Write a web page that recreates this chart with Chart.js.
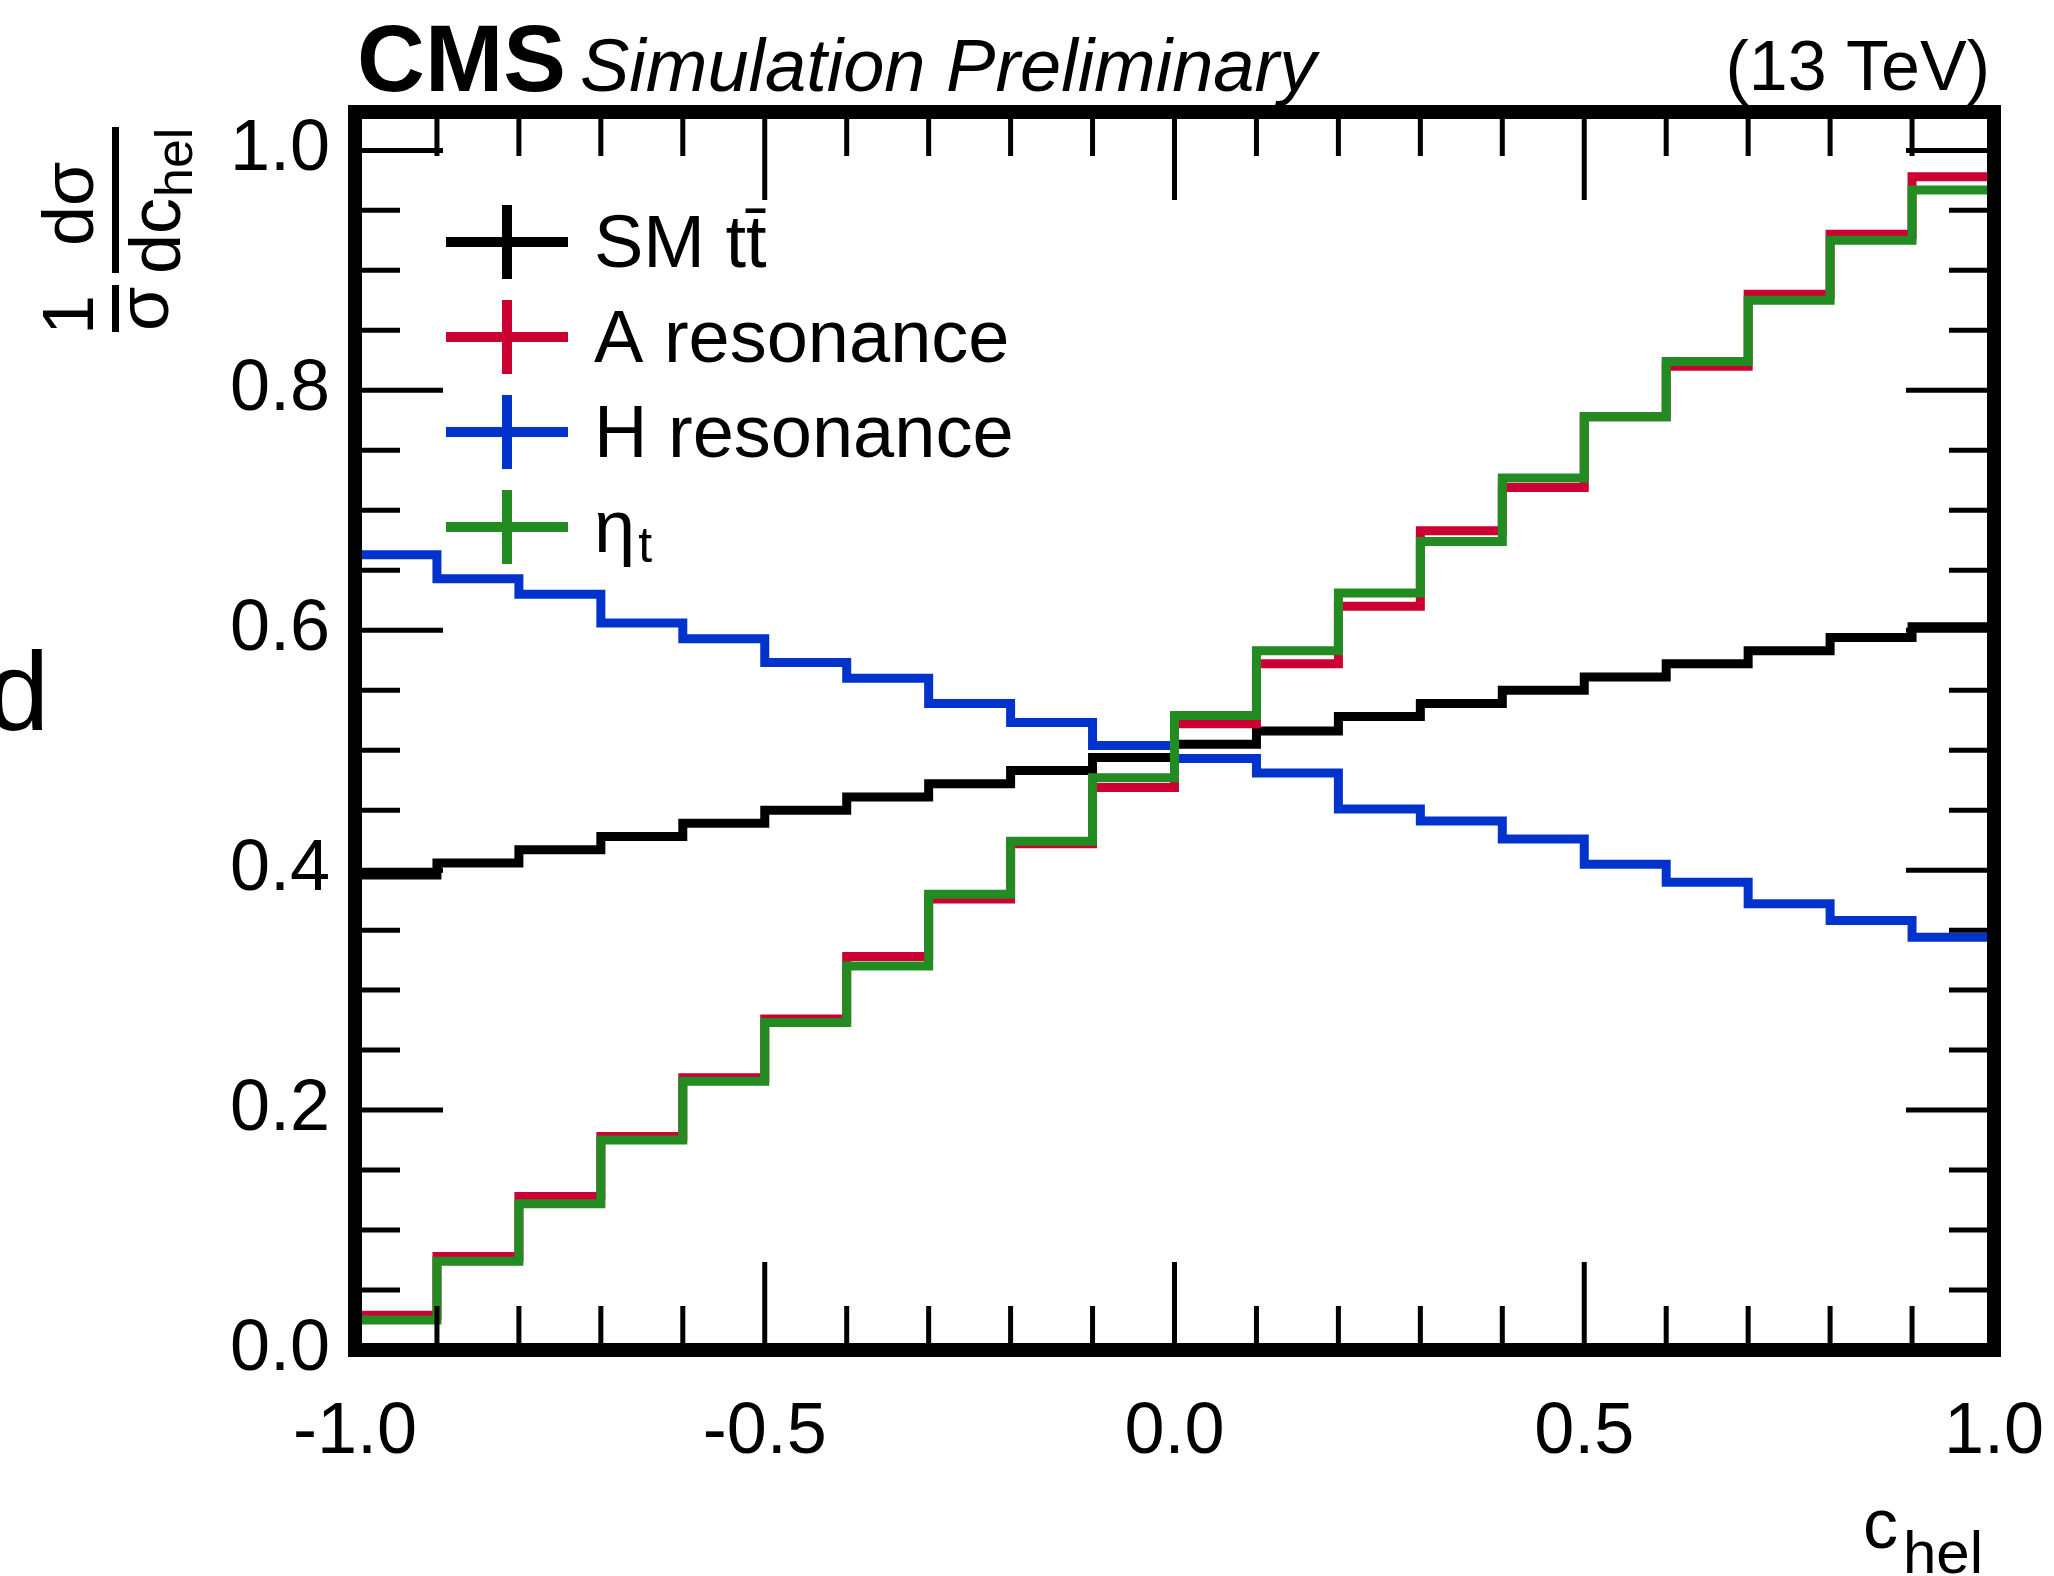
<!DOCTYPE html>
<html>
<head>
<meta charset="utf-8">
<script src="https://cdn.jsdelivr.net/npm/chart.js@4.4.0/dist/chart.umd.min.js"></script>
<style>
  html, body { margin: 0; padding: 0; background: #fff; }
  #wrap { width: 2054px; height: 1576px; }
</style>
</head>
<body>
<div id="wrap"><canvas id="chelChart" width="2054" height="1576"></canvas></div>
<script>
// bin edges of c_hel, 20 bins
const binEdges = [-1.0, -0.9, -0.8, -0.7, -0.6, -0.5, -0.4, -0.3, -0.2, -0.1, 0.0,
                  0.1, 0.2, 0.3, 0.4, 0.5, 0.6, 0.7, 0.8, 0.9, 1.0];

// normalised distributions
const smTT = [0.396, 0.406, 0.417, 0.428, 0.439, 0.450, 0.461, 0.472, 0.483, 0.494,
              0.505, 0.516, 0.528, 0.539, 0.550, 0.561, 0.572, 0.583, 0.594, 0.603];
const aRes = [0.029, 0.078, 0.128, 0.178, 0.227, 0.276, 0.328, 0.376, 0.422, 0.469,
              0.522, 0.572, 0.620, 0.683, 0.719, 0.778, 0.820, 0.880, 0.930, 0.978];
const hRes = [0.663, 0.643, 0.630, 0.606, 0.593, 0.573, 0.560, 0.539, 0.523, 0.504,
              0.493, 0.481, 0.451, 0.441, 0.426, 0.405, 0.390, 0.372, 0.358, 0.344];
const etaT = [0.025, 0.074, 0.122, 0.175, 0.224, 0.273, 0.320, 0.380, 0.424, 0.477,
              0.529, 0.583, 0.631, 0.674, 0.727, 0.778, 0.824, 0.875, 0.925, 0.967];

const seriesLabels = ['SM tt\u0304', 'A resonance', 'H resonance', '\u03b7'];
const seriesSubs = ['', '', '', 't'];
const seriesColors = ['#000000', '#cc0033', '#0033cc', '#228b22'];

const xTicks = [-1.0, -0.5, 0.0, 0.5, 1.0];
const yTicks = [0.0, 0.2, 0.4, 0.6, 0.8, 1.0];

const FONT = '"Liberation Sans", Arial, sans-serif';

// histogram as step points: one point per left edge, plus the last right edge
function histPoints(vals) {
    return binEdges.map((e, i) => ({ x: e, y: vals[Math.min(i, vals.length - 1)] }));
}

function rotText(ctx, text, bx, by, size) {
    ctx.save();
    ctx.translate(bx, by);
    ctx.rotate(-Math.PI / 2);
    ctx.font = size + 'px ' + FONT;
    ctx.textAlign = 'left';
    ctx.textBaseline = 'alphabetic';
    ctx.fillText(text, 0, 0);
    ctx.restore();
}

const cmsDecor = {
    id: 'cmsDecor',
    afterDatasetsDraw(chart) {
        const { ctx, chartArea: a, scales: { x, y } } = chart;
        ctx.save();
        ctx.strokeStyle = '#000';
        ctx.fillStyle = '#000';

        // inward ticks on all four sides
        ctx.lineWidth = 5;
        ctx.beginPath();
        for (let i = 1; i < 20; i++) {
            const px = x.getPixelForValue(-1 + i * 0.1);
            const len = i % 5 === 0 ? 88 : 44;
            ctx.moveTo(px, a.bottom); ctx.lineTo(px, a.bottom - len);
            ctx.moveTo(px, a.top); ctx.lineTo(px, a.top + len);
        }
        for (let i = 1; i <= 20; i++) {
            const py = y.getPixelForValue(i * 0.05);
            const len = i % 4 === 0 ? 88 : 45;
            ctx.moveTo(a.left, py); ctx.lineTo(a.left + len, py);
            ctx.moveTo(a.right, py); ctx.lineTo(a.right - len, py);
        }
        ctx.stroke();

        // frame
        ctx.lineWidth = 14;
        ctx.strokeRect(a.left, a.top, a.right - a.left, a.bottom - a.top);

        // legend
        chart.data.datasets.forEach((ds, i) => {
            const cy = 242 + i * 95;
            ctx.strokeStyle = ds.borderColor;
            ctx.lineWidth = 10;
            ctx.beginPath();
            ctx.moveTo(446, cy); ctx.lineTo(568, cy);
            ctx.moveTo(507, cy - 37); ctx.lineTo(507, cy + 37);
            ctx.stroke();
            ctx.fillStyle = '#000';
            ctx.font = '74px ' + FONT;
            ctx.textAlign = 'left';
            ctx.textBaseline = 'alphabetic';
            ctx.fillText(ds.label, 594, cy + 25);
            if (seriesSubs[i]) {
                const w = ctx.measureText(ds.label).width;
                ctx.font = '50px ' + FONT;
                ctx.fillText(seriesSubs[i], 594 + w + 3, cy + 35);
            }
        });

        // header
        ctx.fillStyle = '#000';
        ctx.textBaseline = 'alphabetic';
        ctx.textAlign = 'left';
        ctx.font = 'bold 94px ' + FONT;
        ctx.fillText('CMS', 357, 91);
        ctx.font = 'italic 74px ' + FONT;
        ctx.fillText('Simulation Preliminary', 580, 91);
        ctx.textAlign = 'right';
        ctx.font = '70px ' + FONT;
        ctx.fillText('(13 TeV)', 1990, 90);

        // x title
        ctx.textAlign = 'left';
        ctx.font = '70px ' + FONT;
        ctx.fillText('c', 1863, 1548);
        ctx.font = '60px ' + FONT;
        ctx.fillText('hel', 1903, 1573);

        // y title: 1/sigma dsigma/dc_hel, rotated
        rotText(ctx, '1', 93, 335, 72);
        ctx.fillRect(112, 285, 7, 47);
        rotText(ctx, '\u03c3', 168, 331, 72);
        rotText(ctx, 'd\u03c3', 93, 246, 72);
        ctx.fillRect(112, 127, 7, 146);
        rotText(ctx, 'dc', 180, 274, 72);
        rotText(ctx, 'hel', 192, 197, 52);

        // stray glyph at the left edge
        ctx.textAlign = 'left';
        ctx.font = '112px ' + FONT;
        ctx.fillText('d', -13, 730);

        ctx.restore();
    }
};

const allSeries = [smTT, aRes, hRes, etaT];
const drawOrder = [4, 3, 2, 1];

new Chart(document.getElementById('chelChart').getContext('2d'), {
    type: 'line',
    data: {
        datasets: allSeries.map((vals, i) => ({
            label: seriesLabels[i],
            data: histPoints(vals),
            stepped: 'before',
            borderColor: seriesColors[i],
            backgroundColor: seriesColors[i],
            borderWidth: 9,
            borderCapStyle: 'butt',
            borderJoinStyle: 'miter',
            pointRadius: 0,
            fill: false,
            order: drawOrder[i]
        }))
    },
    options: {
        responsive: false,
        animation: false,
        devicePixelRatio: 1,
        layout: { padding: { top: 112, right: 60, left: 0, bottom: 0 } },
        plugins: {
            legend: { display: false },
            tooltip: { enabled: false }
        },
        scales: {
            x: {
                type: 'linear',
                min: -1,
                max: 1,
                grid: { display: false, drawTicks: false },
                border: { display: false },
                ticks: {
                    autoSkip: false,
                    maxRotation: 0,
                    padding: 40,
                    color: '#000',
                    font: { family: FONT, size: 72 },
                    callback: v => v.toFixed(1)
                },
                afterBuildTicks: scale => { scale.ticks = xTicks.map(v => ({ value: v })); },
                afterFit: scale => {
                    scale.height = 226;
                    scale.paddingLeft = 0;
                    scale.paddingRight = 0;
                }
            },
            y: {
                type: 'linear',
                min: 0,
                max: 1.032,
                grid: { display: false, drawTicks: false },
                border: { display: false },
                ticks: {
                    autoSkip: false,
                    includeBounds: false,
                    padding: 25,
                    color: '#000',
                    font: { family: FONT, size: 72 },
                    callback: v => v.toFixed(1)
                },
                afterBuildTicks: scale => { scale.ticks = yTicks.map(v => ({ value: v })); },
                afterFit: scale => {
                    scale.width = 355;
                    scale.paddingTop = 0;
                    scale.paddingBottom = 0;
                }
            }
        }
    },
    plugins: [cmsDecor]
});
</script>
</body>
</html>
